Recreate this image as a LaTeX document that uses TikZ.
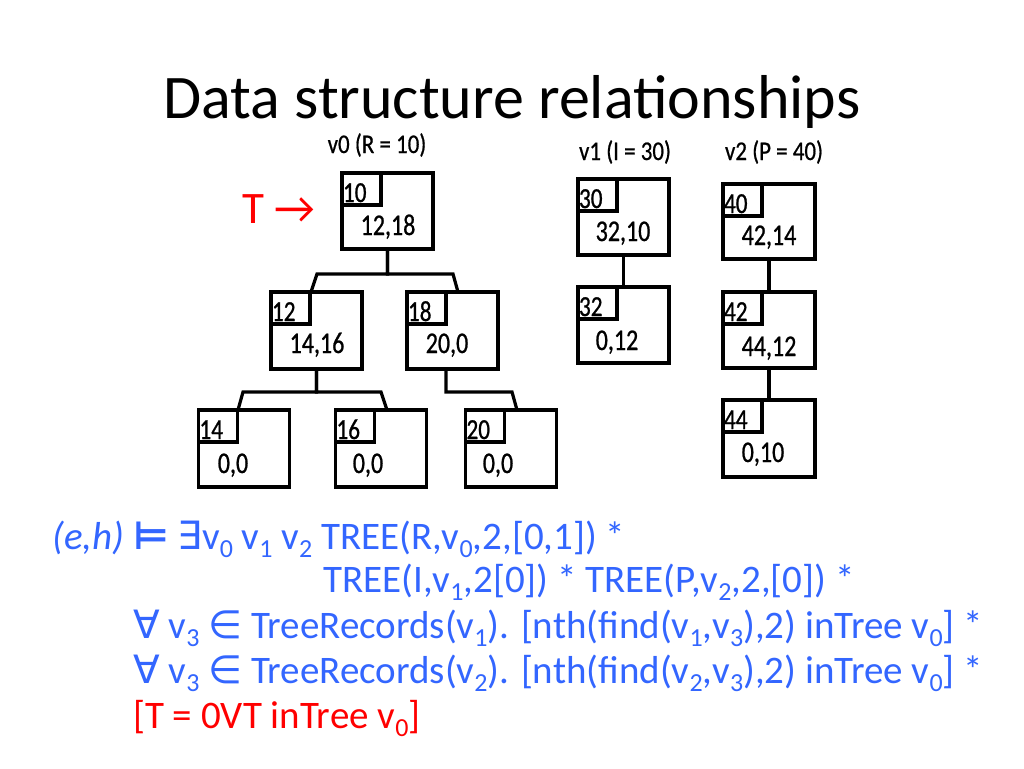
\documentclass[tikz,border=0pt]{standalone}
\usepackage{fontspec}
\setmainfont{Carlito}
\newfontfamily\boxfont[FakeStretch=0.85,FakeBold=0.6]{Carlito}
\newfontfamily\valfont[FakeStretch=0.8,FakeBold=0.8]{Carlito}
\newfontfamily\symfont{DejaVu Sans}
\usetikzlibrary{calc}
\definecolor{slideblue}{RGB}{51,102,255}
\definecolor{slidered}{RGB}{255,0,0}
\newcommand\subs[1]{\raisebox{-8pt}{\fontsize{26}{26}\selectfont #1}}
\begin{document}
\begin{tikzpicture}[x=1pt,y=-1pt,
  recbox/.style={draw,line width=3.2pt,minimum width=91pt,minimum height=76pt,inner sep=0pt,outer sep=0pt},
  idbox/.style={draw,line width=3.2pt,minimum width=39pt,minimum height=32pt,inner xsep=1pt,inner ysep=0pt,outer sep=0pt,
     anchor=north west,align=left,text width=37pt,text height=26pt,text depth=0pt,font=\valfont\fontsize{29}{29}\selectfont},
  valtext/.style={anchor=base,inner sep=0pt,font=\valfont\fontsize{30}{30}\selectfont},
  headtext/.style={anchor=base,inner sep=0pt,font=\boxfont\fontsize{27}{27}\selectfont},
  conn/.style={line width=3.2pt},
  formula/.style={anchor=base west,inner sep=0pt,text=slideblue,font=\fontsize{39}{45}\selectfont},
]
\useasboundingbox[fill=white] (0,0) rectangle (1024,768);

% title
\node[anchor=base,inner sep=0pt,font=\fontsize{62}{70}\selectfont] (title) at (512,118) {Data structure relationships};

% headings
\node[headtext] (h0) at (377,153) {v0 (R = 10)};
\node[headtext] (h1) at (625,160) {v1 (I = 30)};
\node[headtext] (h2) at (774,160) {v2 (P = 40)};

% T pointer
\node[anchor=base west,inner sep=0pt,text=slidered,font=\fontsize{45}{45}\selectfont] (tptr) at (242,223) {T →};

% tree v0
\node[recbox] (r10) at (387.5,211) {};
\node[recbox,minimum height=77pt] (r12) at (316.5,330.5) {};
\node[recbox,minimum height=77pt] (r18) at (452.5,330.5) {};
\node[recbox,minimum height=77pt] (r14) at (244,448.5) {};
\node[recbox,minimum height=77pt] (r16) at (381,448.5) {};
\node[recbox,minimum height=77pt] (r20) at (511,448.5) {};

\node[idbox] (r10i) at (r10.north west) {10};
\node[idbox] (r12i) at (r12.north west) {12};
\node[idbox] (r18i) at (r18.north west) {18};
\node[idbox] (r14i) at (r14.north west) {14};
\node[idbox] (r16i) at (r16.north west) {16};
\node[idbox] (r20i) at (r20.north west) {20};

\node[valtext] (r10v) at (388,235) {12,18};
\node[valtext] (r12v) at (317,353) {14,16};
\node[valtext] (r18v) at (447,353) {20,0};
\node[valtext] (r14v) at (233,473) {0,0};
\node[valtext] (r16v) at (368,473) {0,0};
\node[valtext] (r20v) at (498,473) {0,0};

\draw[conn] ($(r12.north)+(-5.5,0)$) -- ++(6,-18) -| (r10.south);
\draw[conn] ($(r18.north)+(5.5,0)$) -- ++(-5,-18) -| (r10.south);
\draw[conn] ($(r14.north)+(-6,0)$) -- ++(5,-18) -| (r12.south);
\draw[conn] ($(r16.north)+(6,0)$) -- ++(-6,-18) -| (r12.south);
\draw[conn] ($(r20.north)+(6,0)$) -- ++(-5,-18) -| ($(r18.south)+(-6.5,0)$);

% tree v1
\node[recbox] (r30) at (623.5,217) {};
\node[recbox] (r32) at (623.5,325) {};
\node[idbox] (r30i) at (r30.north west) {30};
\node[idbox] (r32i) at (r32.north west) {32};
\node[valtext] (r30v) at (623,241) {32,10};
\node[valtext] (r32v) at (617,350) {0,12};
\draw[conn] (r30.south) -- (r32.north);

% tree v2
\node[recbox,minimum width=92pt,minimum height=75pt] (r40) at (769,221.5) {};
\node[recbox,minimum width=92pt] (r42) at (769,330) {};
\node[recbox,minimum width=92pt,minimum height=77pt] (r44) at (769,438.5) {};
\node[idbox] (r40i) at (r40.north west) {40};
\node[idbox] (r42i) at (r42.north west) {42};
\node[idbox] (r44i) at (r44.north west) {44};
\node[valtext] (r40v) at (769,245) {42,14};
\node[valtext] (r42v) at (769,356) {44,12};
\node[valtext] (r44v) at (763,462) {0,10};
\draw[conn] (r40.south) -- (r42.north);
\draw[conn] (r42.south) -- (r44.north);

% formula
\node[formula] (f1) at (52,549) {\textit{(e,h)} {\symfont\bfseries ⊨} {\symfont ∃}v\subs{0} v\subs{1} v\subs{2} TREE(R,v\subs{0},2,[0,1]) *};
\node[formula] (f2) at (323,592) {TREE(I,v\subs{1},2[0]) * TREE(P,v\subs{2},2,[0]) *};
\node[formula] (f3) at (133,638) {{\symfont ∀} v\subs{3} {\symfont ∈} TreeRecords(v\subs{1}). [nth(find(v\subs{1},v\subs{3}),2) inTree v\subs{0}] *};
\node[formula] (f4) at (133,683) {{\symfont ∀} v\subs{3} {\symfont ∈} TreeRecords(v\subs{2}). [nth(find(v\subs{2},v\subs{3}),2) inTree v\subs{0}] *};
\node[formula,text=slidered] (f5) at (133,728) {[T = 0VT inTree v\subs{0}]};
\end{tikzpicture}
\end{document}
